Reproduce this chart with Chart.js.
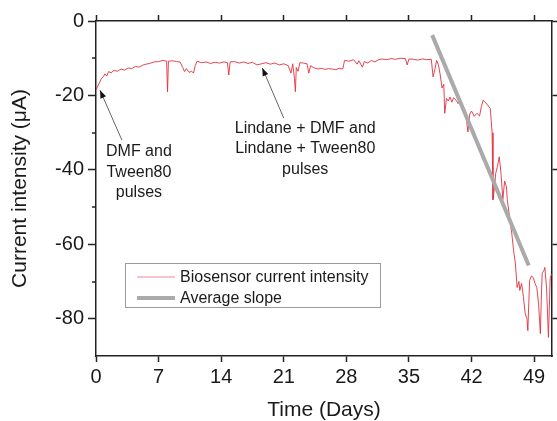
<!DOCTYPE html>
<html>
<head>
<meta charset="utf-8">
<script src="https://cdn.jsdelivr.net/npm/chart.js@4.4.0/dist/chart.umd.min.js"></script>
<style>html,body{margin:0;padding:0;background:#fff}</style>
</head>
<body>
<canvas id="c" width="557" height="421"></canvas>
<script>
const days = [
  0, 0.2, 0.4, 0.6, 0.8, 1.0, 1.2, 1.4, 1.7, 2.0, 2.4, 2.8, 3.2, 3.6, 4.0, 4.4, 4.8, 5.2, 5.6, 6.0,
  6.5, 7.0, 7.5, 7.9, 8.0, 8.1, 8.6, 9.0, 9.4, 9.7, 9.9, 10.1, 10.4, 10.7, 10.9, 11.1, 11.3, 11.8, 12.3, 12.8,
  13.3, 13.8, 14.3, 14.7, 14.85, 15.0, 15.5, 16.0, 16.5, 17.0, 17.5, 18.0, 18.5, 19.0, 19.5, 20.0, 20.5, 21.0, 21.5, 21.8,
  22.0, 22.2, 22.3, 22.4, 22.6, 22.8, 23.2, 23.6, 23.8, 24.0, 24.4, 24.8, 25.2, 25.6, 26.0, 26.4, 26.8, 27.2, 27.6, 27.8,
  28.3, 28.8, 29.2, 29.4, 29.8, 30.0, 30.4, 30.8, 31.2, 31.6, 32.0, 32.5, 33.0, 33.5, 34.0, 34.6, 34.8, 35.0, 35.5, 36.0,
  36.5, 37.0, 37.5, 37.7, 37.9, 38.1, 38.3, 38.5, 38.7, 38.9, 39.0, 39.2, 39.4, 39.6, 39.8, 40.0, 40.3, 40.5, 40.7, 41.0,
  41.3, 41.6, 41.8, 42.0, 42.3, 42.6, 42.9, 43.1, 43.3, 43.6, 43.8, 44.1, 44.3, 44.4, 44.6, 44.7, 44.9, 45.1, 45.3, 45.5,
  45.7, 45.9, 46.0, 46.3, 46.5, 46.7, 46.9, 47.1, 47.3, 47.4, 47.6, 47.8, 48.0, 48.2, 48.3, 48.4, 48.5, 48.7, 48.9, 49.1,
  49.3, 49.5, 49.7, 49.8, 49.9, 50.1, 50.2, 50.4, 50.6, 50.8, 50.95
];
const current = [
  -18.5, -17.5, -16.5, -15.5, -15.0, -14.2, -14.8, -13.6, -13.9, -13.3, -13.5, -12.9, -13.2, -12.6, -12.8, -12.2, -12.4, -11.9, -11.6, -11.4,
  -11.0, -10.9, -10.6, -10.8, -19.0, -10.8, -10.7, -10.9, -11.0, -12.5, -13.6, -12.8, -13.8, -13.5, -14.0, -12.0, -10.8, -11.2, -11.0, -11.4,
  -11.1, -11.3, -11.0, -11.2, -14.5, -11.0, -10.9, -11.3, -11.0, -11.4, -11.1, -11.8, -11.5, -11.2, -11.6, -11.3, -11.8, -11.5, -12.0, -14.0,
  -11.5, -15.5, -19.0, -12.5, -13.5, -11.2, -11.3, -11.5, -14.0, -12.0, -12.6, -12.9, -12.7, -13.0, -12.8, -12.9, -13.1, -12.7, -12.9, -10.6,
  -10.8, -10.4, -11.6, -10.7, -12.4, -10.9, -11.3, -10.6, -11.0, -10.4, -10.2, -10.4, -10.1, -10.3, -10.0, -10.1, -11.8, -10.2, -10.3, -10.5,
  -10.2, -10.4, -10.3, -15.0, -13.0, -10.6, -11.8, -14.5, -18.0, -17.0, -24.8, -20.8, -21.5, -20.4, -21.8, -20.6, -21.4, -22.2, -21.6, -23.0,
  -24.0, -29.8, -25.0, -24.2, -25.6, -24.8, -25.5, -23.0, -21.3, -22.0, -22.6, -23.5, -30.0, -48.0, -44.0, -41.0, -39.0, -36.5, -41.0, -48.0,
  -43.0, -44.5, -48.0, -53.6, -57.0, -61.6, -65.0, -71.6, -70.0, -72.4, -70.5, -74.0, -78.6, -80.0, -83.2, -76.0, -69.7, -68.5, -68.9, -70.5,
  -71.6, -76.0, -84.0, -75.0, -67.8, -67.0, -66.2, -72.0, -85.0, -69.0, -68.0
];
const slopeDays = [37.6, 48.4];
const slopeCurrent = [-3.8, -65.7];
const xTicks = [0, 7, 14, 21, 28, 35, 42, 49];
const yTicks = [0, -20, -40, -60, -80];
const yMinorTicks = [-10, -30, -50, -70];

const FONT = '"Liberation Sans", Arial, sans-serif';
Chart.defaults.font.family = FONT;
Chart.defaults.color = '#1a1a1a';

const axisColor = '#222';

const minorTicks = {
  id: 'minorTicks',
  afterDraw(chart) {
    const ctx = chart.ctx, y = chart.scales.y, left = chart.chartArea.left;
    ctx.save();
    ctx.strokeStyle = axisColor;
    ctx.lineWidth = 1.5;
    yMinorTicks.forEach(v => {
      const py = Math.round(y.getPixelForValue(v));
      ctx.beginPath();
      ctx.moveTo(left - 4, py);
      ctx.lineTo(left, py);
      ctx.stroke();
    });
    ctx.restore();
  }
};

const legendBox = {
  id: 'legendBox',
  afterDatasetsDraw(chart) {
    const ctx = chart.ctx;
    ctx.save();
    ctx.fillStyle = '#fff';
    ctx.fillRect(125.5, 263.5, 255, 44);
    ctx.strokeStyle = '#9a9a9a';
    ctx.lineWidth = 1;
    ctx.strokeRect(125.5, 263.5, 255, 44);
    const rows = [277, 298];
    chart.data.datasets.forEach((ds, i) => {
      const ry = rows[i];
      ctx.strokeStyle = ds.legendColor;
      ctx.lineWidth = ds.legendWidth;
      ctx.beginPath();
      ctx.moveTo(137, ry);
      ctx.lineTo(175, ry);
      ctx.stroke();
      ctx.fillStyle = '#1a1a1a';
      ctx.font = '16px ' + FONT;
      ctx.textBaseline = 'middle';
      ctx.textAlign = 'left';
      ctx.fillText(ds.label, 180, ry + 1);
    });
    ctx.restore();
  }
};

const notes = [
  { lines: ['DMF and', 'Tween80', 'pulses'], at: [4.8, -35.2], tip: [0.45, -18.6], tail: [2.9, -32] },
  { lines: ['Lindane + DMF and', 'Lindane + Tween80', 'pulses'], at: [23.4, -28.8], tip: [18.6, -12.6], tail: [21.0, -26.1] }
];

const annotations = {
  id: 'annotations',
  afterDatasetsDraw(chart) {
    const ctx = chart.ctx, x = chart.scales.x, y = chart.scales.y;
    ctx.save();
    notes.forEach(n => {
      const tx = x.getPixelForValue(n.tip[0]), ty = y.getPixelForValue(n.tip[1]);
      const sx = x.getPixelForValue(n.tail[0]), sy = y.getPixelForValue(n.tail[1]);
      ctx.strokeStyle = '#666';
      ctx.lineWidth = 1;
      ctx.beginPath();
      ctx.moveTo(sx, sy);
      ctx.lineTo(tx, ty);
      ctx.stroke();
      const a = Math.atan2(ty - sy, tx - sx), L = 8, W = 3;
      ctx.fillStyle = '#111';
      ctx.beginPath();
      ctx.moveTo(tx, ty);
      ctx.lineTo(tx - L * Math.cos(a) + W * Math.sin(a), ty - L * Math.sin(a) - W * Math.cos(a));
      ctx.lineTo(tx - L * Math.cos(a) - W * Math.sin(a), ty - L * Math.sin(a) + W * Math.cos(a));
      ctx.closePath();
      ctx.fill();
      ctx.fillStyle = '#1a1a1a';
      ctx.font = '16px ' + FONT;
      ctx.textAlign = 'center';
      ctx.textBaseline = 'middle';
      const cx = x.getPixelForValue(n.at[0]), cy = y.getPixelForValue(n.at[1]);
      n.lines.forEach((t, i) => ctx.fillText(t, cx, cy + i * 20.5));
    });
    ctx.restore();
  }
};

const tickSet = arr => scale => { scale.ticks = arr.map(v => ({ value: v })); };

new Chart(document.getElementById('c'), {
  type: 'line',
  data: {
    datasets: [
      {
        label: 'Biosensor current intensity',
        data: days.map((d, i) => ({ x: d, y: current[i] })),
        borderColor: '#e2303d',
        borderWidth: 0.9,
        legendColor: '#e88a98',
        legendWidth: 1,
        pointRadius: 0,
        tension: 0,
        order: 1
      },
      {
        label: 'Average slope',
        data: slopeDays.map((d, i) => ({ x: d, y: slopeCurrent[i] })),
        borderColor: '#aaaaaa',
        borderWidth: 4,
        legendColor: '#aaaaaa',
        legendWidth: 4,
        pointRadius: 0,
        order: 0
      }
    ]
  },
  options: {
    responsive: false,
    animation: false,
    layout: { padding: 0 },
    plugins: {
      legend: { display: false },
      tooltip: { enabled: false }
    },
    scales: {
      x: {
        type: 'linear', position: 'bottom', min: 0, max: 51,
        afterBuildTicks: tickSet(xTicks),
        afterFit: s => { s.height = 65; },
        ticks: { font: { size: 20 }, padding: 3, maxRotation: 0, autoSkip: false },
        grid: { drawOnChartArea: false, tickLength: 6, tickColor: axisColor, tickWidth: 1.5 },
        border: { color: axisColor, width: 1.5 },
        title: { display: true, text: 'Time (Days)', font: { size: 21, lineHeight: 1 }, padding: { top: 0, bottom: 0 } }
      },
      x2: {
        type: 'linear', position: 'top', min: 0, max: 51,
        afterBuildTicks: tickSet(xTicks),
        afterFit: s => { s.height = 21; },
        ticks: { display: false },
        grid: { drawOnChartArea: false, tickLength: 6, tickColor: axisColor, tickWidth: 1.5 },
        border: { color: axisColor, width: 1.5 }
      },
      y: {
        type: 'linear', position: 'left', min: -90, max: 0,
        afterBuildTicks: tickSet(yTicks),
        afterFit: s => { s.width = 96; },
        ticks: { font: { size: 20 }, padding: 4 },
        grid: { drawOnChartArea: false, tickLength: 8, tickColor: axisColor, tickWidth: 1.5 },
        border: { color: axisColor, width: 1.5 },
        title: { display: true, text: 'Current intensity (\u03bcA)', font: { size: 21, lineHeight: 1 }, padding: { top: 10, bottom: 0 } }
      },
      y2: {
        type: 'linear', position: 'right', min: -90, max: 0,
        afterBuildTicks: tickSet(yTicks),
        afterFit: s => { s.width = 5; },
        ticks: { display: false },
        grid: { drawOnChartArea: false, tickLength: 5, tickColor: axisColor, tickWidth: 1.5 },
        border: { color: axisColor, width: 1.5 }
      }
    }
  },
  plugins: [minorTicks, annotations, legendBox]
});
</script>
</body>
</html>
